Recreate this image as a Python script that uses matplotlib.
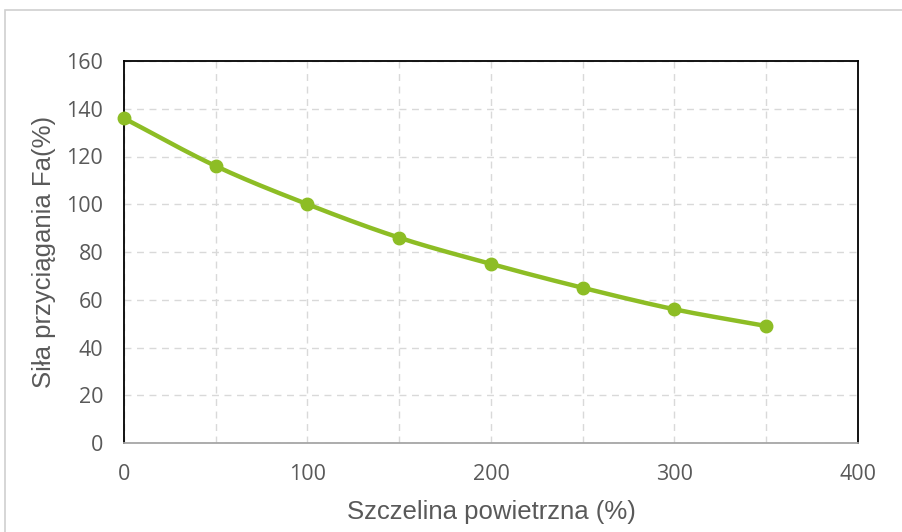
import numpy as np
import matplotlib.pyplot as plt
from matplotlib.patches import Rectangle

# values
gap = [0, 50, 100, 150, 200, 250, 300, 350]
force = [136, 116, 100, 86, 75, 65, 56, 49]
xticks = [0, 100, 200, 300, 400]
yticks = [0, 20, 40, 60, 80, 100, 120, 140, 160]

green = '#8dbd25'


def catmull_rom(x, y, n=20):
    # smooth curve through the points, like Excel's smoothed line
    x = np.asarray(x, float)
    y = np.asarray(y, float)
    px = np.concatenate([[2 * x[0] - x[1]], x, [2 * x[-1] - x[-2]]])
    py = np.concatenate([[2 * y[0] - y[1]], y, [2 * y[-1] - y[-2]]])
    xs, ys = [], []
    t = np.linspace(0, 1, n)
    for i in range(1, len(px) - 2):
        for p, out in ((px, xs), (py, ys)):
            p0, p1, p2, p3 = p[i - 1], p[i], p[i + 1], p[i + 2]
            out.extend(0.5 * (2 * p1 + (-p0 + p2) * t
                              + (2 * p0 - 5 * p1 + 4 * p2 - p3) * t ** 2
                              + (-p0 + 3 * p1 - 3 * p2 + p3) * t ** 3))
    return np.array(xs), np.array(ys)


fig = plt.figure(figsize=(9.03, 5.32), dpi=100)
fig.patches.append(Rectangle((5 / 903, -0.1), 1.2, 1 - 10 / 532 + 0.1,
                             transform=fig.transFigure, fill=False,
                             edgecolor='#d0d0d0', linewidth=1.2))

ax = fig.add_axes([124 / 903, 1 - 443 / 532, (858 - 124) / 903, (443 - 61) / 532])

sx, sy = catmull_rom(gap, force)
ax.plot(sx, sy, color=green, linewidth=3.2, solid_capstyle='round', zorder=3)
ax.plot(gap, force, 'o', color=green, markersize=9, zorder=4, clip_on=False)

ax.set_xlim(0, 400)
ax.set_ylim(0, 160)
ax.set_xticks(xticks)
ax.set_yticks(yticks)
ax.set_xticks(range(0, 401, 50), minor=True)
ax.grid(True, which='both', axis='x', color='#d9d9d9', linestyle=(0, (5, 4)), linewidth=1)
ax.grid(True, which='major', axis='y', color='#d9d9d9', linestyle=(0, (5, 4)), linewidth=1)
ax.set_axisbelow(True)

for s in ['left', 'right', 'top']:
    ax.spines[s].set_color('black')
    ax.spines[s].set_linewidth(1.3)
ax.spines['bottom'].set_color('#a6a6a6')
ax.spines['bottom'].set_linewidth(1.3)

ax.tick_params(which='both', length=0, labelsize=15.5, labelcolor='#595959')
ax.tick_params(axis='x', pad=15)
ax.tick_params(axis='y', pad=15)
for lab in ax.get_xticklabels() + ax.get_yticklabels():
    lab.set_fontfamily('Open Sans')

ax.set_xlabel('Szczelina powietrzna (%)', fontsize=18.5, color='#595959',
              fontfamily='Liberation Sans', labelpad=11)
ax.set_ylabel('Siła przyciągania Fa(%)', fontsize=18.5, color='#595959',
              fontfamily='Liberation Sans', labelpad=7)

fig.savefig('out.png', dpi=100)
